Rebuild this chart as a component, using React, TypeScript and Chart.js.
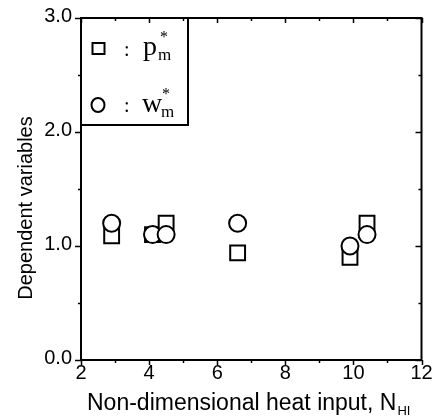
import React, { useEffect, useRef } from 'react';
import { Chart, registerables } from 'chart.js';

Chart.register(...registerables);

const pmX = [2.9, 4.1, 4.5, 6.6, 9.9, 10.4];
const pmY = [1.09, 1.1, 1.2, 0.94, 0.9, 1.2];
const wmX = [2.9, 4.1, 4.5, 6.6, 9.9, 10.4];
const wmY = [1.2, 1.1, 1.1, 1.2, 1.0, 1.1];

const xMajorTicks = [2, 4, 6, 8, 10, 12];
const xMinorTicks = [3, 5, 7, 9, 11];
const yMajorTicks = [0, 1, 2, 3];
const yMinorTicks = [0.5, 1.5, 2.5];

const xTitle = 'Non-dimensional heat input, N';
const xTitleSub = 'HI';
const yTitle = 'Dependent variables';

const SANS = '"Liberation Sans", Arial, sans-serif';
const SERIF = '"Liberation Serif", "Times New Roman", serif';

const framePlugin = {
  id: 'framePlugin',
  afterDraw(chart: any) {
    const ctx = chart.ctx as CanvasRenderingContext2D;
    const { left, right, top, bottom } = chart.chartArea;
    const xs = chart.scales.x;
    const ys = chart.scales.y;
    ctx.save();
    ctx.strokeStyle = '#000';
    ctx.fillStyle = '#000';
    ctx.lineWidth = 2;
    ctx.strokeRect(left, top, right - left, bottom - top);

    ctx.lineWidth = 1.5;
    const line = (x1: number, y1: number, x2: number, y2: number) => {
      ctx.beginPath();
      ctx.moveTo(x1, y1);
      ctx.lineTo(x2, y2);
      ctx.stroke();
    };
    xMajorTicks.forEach((v) => {
      const px = Math.round(xs.getPixelForValue(v)) + 0.5;
      line(px, bottom, px, bottom + 5);
      line(px, top, px, top + 5);
    });
    xMinorTicks.forEach((v) => {
      const px = Math.round(xs.getPixelForValue(v)) + 0.5;
      line(px, bottom, px, bottom + 3);
      line(px, top, px, top + 3);
    });
    yMajorTicks.forEach((v) => {
      const py = Math.round(ys.getPixelForValue(v)) + 0.5;
      line(left - 6, py, left, py);
      line(right - 6, py, right, py);
    });
    yMinorTicks.forEach((v) => {
      const py = Math.round(ys.getPixelForValue(v)) + 0.5;
      line(left - 3, py, left, py);
      line(right - 3, py, right, py);
    });

    // tick labels
    ctx.font = `20px ${SANS}`;
    ctx.textAlign = 'center';
    ctx.textBaseline = 'top';
    xMajorTicks.forEach((v) => {
      ctx.fillText(String(v), xs.getPixelForValue(v), bottom + 3);
    });
    ctx.textAlign = 'right';
    ctx.textBaseline = 'middle';
    yMajorTicks.forEach((v) => {
      ctx.fillText(v.toFixed(1), left - 9, ys.getPixelForValue(v) - 2);
    });

    // x title
    ctx.font = `23px ${SANS}`;
    ctx.textAlign = 'left';
    ctx.textBaseline = 'alphabetic';
    const tx = 87;
    const ty = 410;
    ctx.fillText(xTitle, tx, ty);
    const w = ctx.measureText(xTitle).width;
    ctx.font = `13px ${SANS}`;
    ctx.fillText(xTitleSub, tx + w + 1, ty + 5);

    // y title
    ctx.save();
    ctx.translate(32, 208);
    ctx.rotate(-Math.PI / 2);
    ctx.font = `20px ${SANS}`;
    ctx.textAlign = 'center';
    ctx.textBaseline = 'alphabetic';
    ctx.fillText(yTitle, 0, 0);
    ctx.restore();

    // legend box
    ctx.lineWidth = 2;
    ctx.strokeRect(left, top, 188 - left, 125 - top);
    // square marker
    ctx.strokeRect(92.5, 43, 12, 11);
    // circle marker
    ctx.beginPath();
    ctx.ellipse(98, 105, 6.5, 7, 0, 0, Math.PI * 2);
    ctx.stroke();

    ctx.font = `20px ${SERIF}`;
    ctx.textAlign = 'left';
    ctx.fillText(':', 124, 56);
    ctx.fillText(':', 124, 112);
    ctx.font = `28px ${SERIF}`;
    ctx.fillText('p', 143, 55);
    ctx.fillText('w', 142, 112);
    ctx.font = `17px ${SERIF}`;
    ctx.fillText('m', 158, 60);
    ctx.fillText('m', 161, 117);
    ctx.font = `16px ${SERIF}`;
    ctx.fillText('*', 160, 42);
    ctx.fillText('*', 162, 99);
    ctx.restore();
  },
};

export default function App() {
  const ref = useRef<HTMLCanvasElement>(null);
  useEffect(() => {
    if (!ref.current) return;
    const chart = new Chart(ref.current, {
      type: 'scatter',
      data: {
        datasets: [
          {
            label: 'w*m',
            data: wmX.map((x, i) => ({ x, y: wmY[i] })),
            pointStyle: 'circle',
            pointRadius: 8.5,
            pointBorderWidth: 2,
            borderColor: '#000',
            backgroundColor: '#fff',
            pointBackgroundColor: '#fff',
            pointBorderColor: '#000',
            order: 0,
          },
          {
            label: 'p*m',
            data: pmX.map((x, i) => ({ x, y: pmY[i] })),
            pointStyle: 'rect',
            pointRadius: 10.5,
            pointBorderWidth: 2,
            borderColor: '#000',
            backgroundColor: '#fff',
            pointBackgroundColor: '#fff',
            pointBorderColor: '#000',
            order: 1,
          },
        ],
      },
      options: {
        responsive: false,
        animation: false,
        devicePixelRatio: 1,
        layout: { padding: { left: 81, right: 11, top: 18, bottom: 57 } },
        plugins: { legend: { display: false }, tooltip: { enabled: false } },
        scales: {
          x: { type: 'linear', min: 2, max: 12, display: false },
          y: { type: 'linear', min: 0, max: 3, display: false },
        },
      },
      plugins: [framePlugin],
    });
    return () => chart.destroy();
  }, []);
  return (
    <div style={{ position: 'absolute', left: 0, top: 0, width: 434, height: 417, background: '#fff' }}>
      <canvas ref={ref} width={434} height={417} />
    </div>
  );
}
